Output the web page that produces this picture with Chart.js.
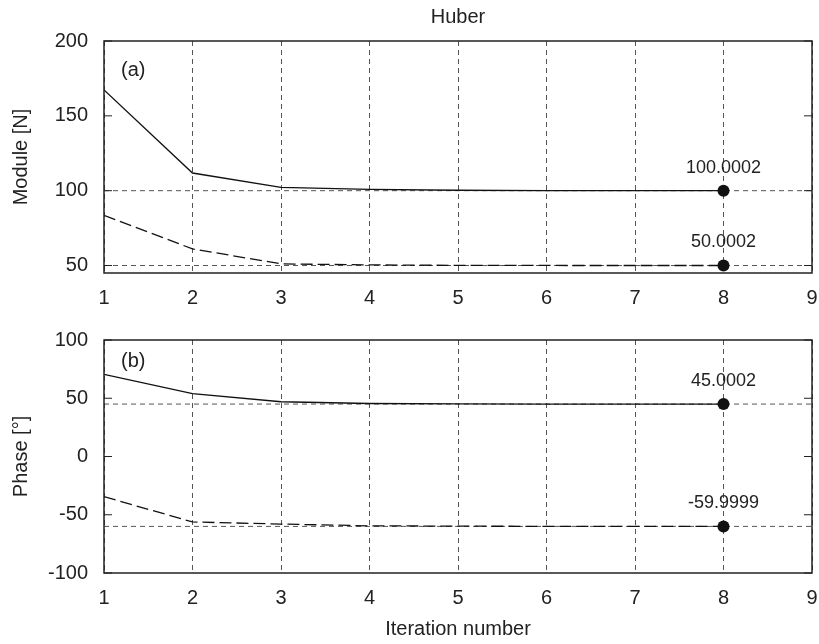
<!DOCTYPE html>
<html>
<head>
<meta charset="utf-8">
<script src="https://cdn.jsdelivr.net/npm/chart.js@4.4.1/dist/chart.umd.min.js"></script>
<style>
  body { margin: 0; background: #fff; }
  #wrap { position: relative; width: 819px; height: 644px; }
  canvas { position: absolute; left: 0; }
</style>
</head>
<body>
<div id="wrap">
  <canvas id="topChart" width="819" height="320" style="top:0"></canvas>
  <canvas id="bottomChart" width="819" height="324" style="top:320px"></canvas>
</div>
<script>
const iteraciones = [1, 2, 3, 4, 5, 6, 7, 8];
const moduloA = [167.3, 111.8, 102.2, 100.9, 100.3, 100.1, 100.02, 100.0002];
const moduloB = [83.5, 61.1, 51.1, 50.4, 50.1, 50.03, 50.01, 50.0002];
const faseA = [70.5, 53.9, 47.0, 45.5, 45.1, 45.03, 45.01, 45.0002];
const faseB = [-34.5, -56.2, -58.0, -59.5, -59.8, -59.95, -59.99, -59.9999];
const refModulo = [100.0002, 50.0002];
const refFase = [45.0002, -59.9999];
const etiquetasModulo = ['100.0002', '50.0002'];
const etiquetasFase = ['45.0002', '-59.9999'];
const ticksModulo = [50, 100, 150, 200];
const ticksFase = [-100, -50, 0, 50, 100];
const ticksX = [1, 2, 3, 4, 5, 6, 7, 8, 9];

const TEXTO = '#222';
const FUENTE = 'Liberation Sans, Arial, sans-serif';

function puntos(ys) {
    return ys.map((y, i) => ({x: iteraciones[i], y: y}));
}

function lineaRef(valor) {
    return {
        data: [{x: ticksX[0], y: valor}, {x: ticksX[ticksX.length - 1], y: valor}],
        borderColor: '#555',
        borderWidth: 1,
        borderDash: [5, 4],
        pointRadius: 0,
        order: 2
    };
}

function serie(ys, dash, etiqueta) {
    return {
        data: puntos(ys),
        borderColor: '#111',
        backgroundColor: '#111',
        borderWidth: 1.3,
        borderDash: dash,
        pointRadius: ctx => ctx.dataIndex === ys.length - 1 ? 6 : 0,
        pointBorderWidth: 0,
        etiqueta: etiqueta,
        order: 1
    };
}

// marco, marcas interiores del eje y, titulo, (a)/(b) y valores finales
const decoracion = {
    id: 'decoracion',
    afterDatasetsDraw(chart, args, opts) {
        const {ctx, chartArea: a, scales} = chart;
        ctx.save();
        ctx.strokeStyle = '#222';
        ctx.lineWidth = 1.5;
        ctx.strokeRect(a.left, a.top, a.right - a.left, a.bottom - a.top);

        ctx.lineWidth = 1;
        scales.y.ticks.forEach(t => {
            const py = scales.y.getPixelForValue(t.value);
            ctx.beginPath();
            ctx.moveTo(a.left, py); ctx.lineTo(a.left + 8, py);
            ctx.moveTo(a.right - 8, py); ctx.lineTo(a.right, py);
            ctx.stroke();
        });

        ctx.fillStyle = TEXTO;
        ctx.font = '20px ' + FUENTE;
        ctx.textBaseline = 'middle';
        if (opts.titulo) {
            ctx.textAlign = 'center';
            ctx.fillText(opts.titulo, (a.left + a.right) / 2, 17);
        }
        ctx.textAlign = 'left';
        ctx.fillText(opts.panel, a.left + 17, a.top + opts.panelY);

        ctx.font = '18px ' + FUENTE;
        ctx.textAlign = 'center';
        chart.data.datasets.forEach((ds, i) => {
            if (!ds.etiqueta) return;
            const meta = chart.getDatasetMeta(i);
            const p = meta.data[meta.data.length - 1];
            ctx.fillText(ds.etiqueta, p.x, p.y - 23);
        });
        ctx.restore();
    }
};

function opciones(cfg) {
    return {
        responsive: false,
        animation: false,
        layout: {padding: {left: 0, right: 7, top: cfg.padTop, bottom: 0}},
        plugins: {
            legend: {display: false},
            tooltip: {enabled: false},
            title: {display: false},
            decoracion: {panel: cfg.panel, panelY: cfg.panelY, titulo: cfg.titulo}
        },
        scales: {
            x: {
                type: 'linear',
                min: 1,
                max: 9,
                afterBuildTicks: s => { s.ticks = ticksX.map(v => ({value: v})); },
                afterFit: s => { s.height = cfg.altoX; s.paddingLeft = 0; s.paddingRight = 0; },
                grid: {color: '#555', lineWidth: 1, drawTicks: false},
                border: {display: false, dash: [5, 4]},
                ticks: {color: TEXTO, padding: 13, font: {family: FUENTE, size: 20}},
                title: cfg.tituloX ? {
                    display: true,
                    text: cfg.tituloX,
                    color: TEXTO,
                    font: {family: FUENTE, size: 20},
                    padding: {top: 0, bottom: 3}
                } : {display: false}
            },
            y: {
                min: cfg.yMin,
                max: cfg.yMax,
                afterBuildTicks: s => { s.ticks = cfg.ticksY.map(v => ({value: v})); },
                afterFit: s => { s.width = 104; s.paddingTop = 0; s.paddingBottom = 0; },
                grid: {display: false, drawTicks: false},
                border: {display: false},
                ticks: {color: TEXTO, padding: 16, font: {family: FUENTE, size: 20}},
                title: {
                    display: true,
                    text: cfg.tituloY,
                    color: TEXTO,
                    font: {family: FUENTE, size: 20},
                    padding: {top: 9, bottom: 0}
                }
            }
        }
    };
}

new Chart('topChart', {
    type: 'line',
    data: {
        datasets: [
            serie(moduloA, [], etiquetasModulo[0]),
            serie(moduloB, [12, 5], etiquetasModulo[1]),
            lineaRef(refModulo[0]),
            lineaRef(refModulo[1])
        ]
    },
    options: opciones({
        titulo: 'Huber', padTop: 41, altoX: 47,
        yMin: 45, yMax: 200, ticksY: ticksModulo,
        tituloY: 'Module [N]', panel: '(a)', panelY: 29
    }),
    plugins: [decoracion]
});

new Chart('bottomChart', {
    type: 'line',
    data: {
        datasets: [
            serie(faseA, [], etiquetasFase[0]),
            serie(faseB, [12, 5], etiquetasFase[1]),
            lineaRef(refFase[0]),
            lineaRef(refFase[1])
        ]
    },
    options: opciones({
        titulo: null, padTop: 20, altoX: 71,
        yMin: -100, yMax: 100, ticksY: ticksFase,
        tituloY: 'Phase [°]', tituloX: 'Iteration number', panel: '(b)', panelY: 21
    }),
    plugins: [decoracion]
});
</script>
</body>
</html>
